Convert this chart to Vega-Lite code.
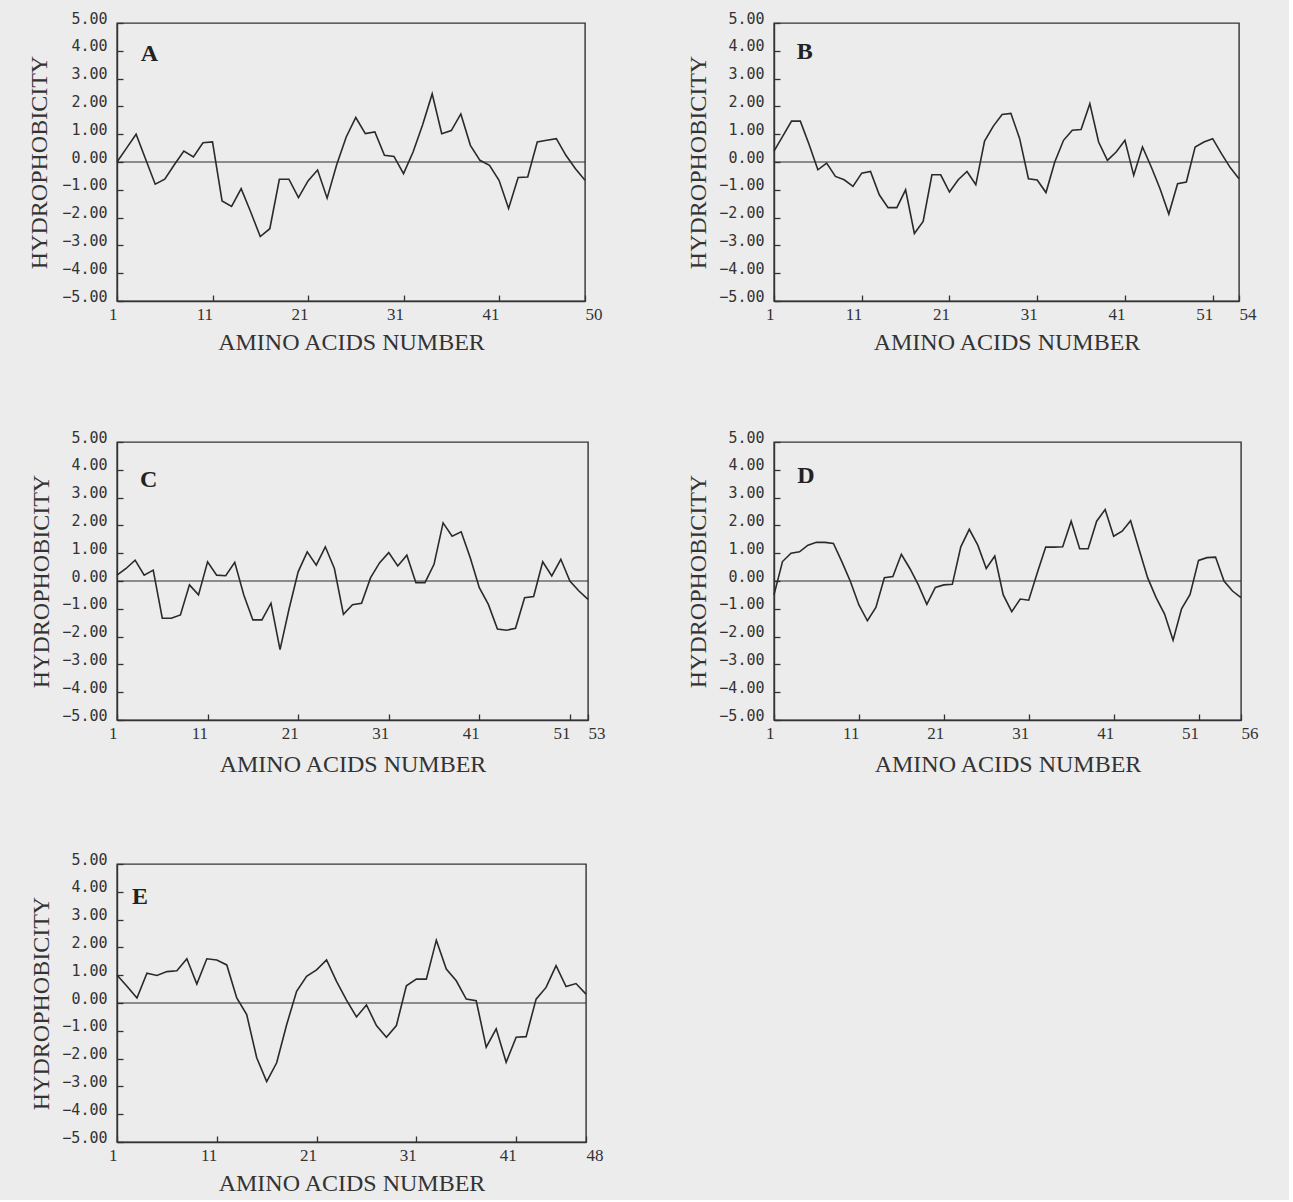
{
  "$schema": "https://vega.github.io/schema/vega-lite/v6.json",
  "background": "#ececec",
  "padding": {"left": 27, "top": 10, "right": 30, "bottom": 4},
  "datasets": {
    "hydro": [
      {"p":"A","n":1,"h":0.0},{"p":"A","n":2,"h":0.5},{"p":"A","n":3,"h":1.0},{"p":"A","n":4,"h":0.1},{"p":"A","n":5,"h":-0.8},{"p":"A","n":6,"h":-0.62},{"p":"A","n":7,"h":-0.1},{"p":"A","n":8,"h":0.39},{"p":"A","n":9,"h":0.18},{"p":"A","n":10,"h":0.69},
      {"p":"A","n":11,"h":0.72},{"p":"A","n":12,"h":-1.4},{"p":"A","n":13,"h":-1.6},{"p":"A","n":14,"h":-0.96},{"p":"A","n":15,"h":-1.8},{"p":"A","n":16,"h":-2.68},{"p":"A","n":17,"h":-2.4},{"p":"A","n":18,"h":-0.62},{"p":"A","n":19,"h":-0.62},{"p":"A","n":20,"h":-1.28},
      {"p":"A","n":21,"h":-0.68},{"p":"A","n":22,"h":-0.29},{"p":"A","n":23,"h":-1.3},{"p":"A","n":24,"h":-0.1},{"p":"A","n":25,"h":0.9},{"p":"A","n":26,"h":1.6},{"p":"A","n":27,"h":1.02},{"p":"A","n":28,"h":1.08},{"p":"A","n":29,"h":0.24},{"p":"A","n":30,"h":0.2},
      {"p":"A","n":31,"h":-0.42},{"p":"A","n":32,"h":0.36},{"p":"A","n":33,"h":1.34},{"p":"A","n":34,"h":2.45},{"p":"A","n":35,"h":1.02},{"p":"A","n":36,"h":1.13},{"p":"A","n":37,"h":1.73},{"p":"A","n":38,"h":0.6},{"p":"A","n":39,"h":0.06},{"p":"A","n":40,"h":-0.12},
      {"p":"A","n":41,"h":-0.66},{"p":"A","n":42,"h":-1.67},{"p":"A","n":43,"h":-0.56},{"p":"A","n":44,"h":-0.54},{"p":"A","n":45,"h":0.72},{"p":"A","n":46,"h":0.78},{"p":"A","n":47,"h":0.84},{"p":"A","n":48,"h":0.24},{"p":"A","n":49,"h":-0.24},{"p":"A","n":50,"h":-0.66},
      {"p":"B","n":1,"h":0.39},{"p":"B","n":2,"h":0.93},{"p":"B","n":3,"h":1.47},{"p":"B","n":4,"h":1.47},{"p":"B","n":5,"h":0.63},{"p":"B","n":6,"h":-0.28},{"p":"B","n":7,"h":-0.04},{"p":"B","n":8,"h":-0.52},{"p":"B","n":9,"h":-0.64},{"p":"B","n":10,"h":-0.88},
      {"p":"B","n":11,"h":-0.4},{"p":"B","n":12,"h":-0.34},{"p":"B","n":13,"h":-1.18},{"p":"B","n":14,"h":-1.64},{"p":"B","n":15,"h":-1.64},{"p":"B","n":16,"h":-1.0},{"p":"B","n":17,"h":-2.57},{"p":"B","n":18,"h":-2.14},{"p":"B","n":19,"h":-0.46},{"p":"B","n":20,"h":-0.46},
      {"p":"B","n":21,"h":-1.08},{"p":"B","n":22,"h":-0.64},{"p":"B","n":23,"h":-0.34},{"p":"B","n":24,"h":-0.82},{"p":"B","n":25,"h":0.75},{"p":"B","n":26,"h":1.29},{"p":"B","n":27,"h":1.71},{"p":"B","n":28,"h":1.75},{"p":"B","n":29,"h":0.84},{"p":"B","n":30,"h":-0.6},
      {"p":"B","n":31,"h":-0.65},{"p":"B","n":32,"h":-1.1},{"p":"B","n":33,"h":0.0},{"p":"B","n":34,"h":0.78},{"p":"B","n":35,"h":1.14},{"p":"B","n":36,"h":1.17},{"p":"B","n":37,"h":2.1},{"p":"B","n":38,"h":0.72},{"p":"B","n":39,"h":0.06},{"p":"B","n":40,"h":0.36},
      {"p":"B","n":41,"h":0.78},{"p":"B","n":42,"h":-0.48},{"p":"B","n":43,"h":0.54},{"p":"B","n":44,"h":-0.18},{"p":"B","n":45,"h":-0.96},{"p":"B","n":46,"h":-1.87},{"p":"B","n":47,"h":-0.78},{"p":"B","n":48,"h":-0.72},{"p":"B","n":49,"h":0.54},{"p":"B","n":50,"h":0.72},
      {"p":"B","n":51,"h":0.84},{"p":"B","n":52,"h":0.3},{"p":"B","n":53,"h":-0.2},{"p":"B","n":54,"h":-0.6},
      {"p":"C","n":1,"h":0.21},{"p":"C","n":2,"h":0.45},{"p":"C","n":3,"h":0.75},{"p":"C","n":4,"h":0.21},{"p":"C","n":5,"h":0.39},{"p":"C","n":6,"h":-1.34},{"p":"C","n":7,"h":-1.34},{"p":"C","n":8,"h":-1.22},{"p":"C","n":9,"h":-0.14},{"p":"C","n":10,"h":-0.5},
      {"p":"C","n":11,"h":0.69},{"p":"C","n":12,"h":0.21},{"p":"C","n":13,"h":0.19},{"p":"C","n":14,"h":0.67},{"p":"C","n":15,"h":-0.5},{"p":"C","n":16,"h":-1.4},{"p":"C","n":17,"h":-1.4},{"p":"C","n":18,"h":-0.8},{"p":"C","n":19,"h":-2.47},{"p":"C","n":20,"h":-1.0},
      {"p":"C","n":21,"h":0.33},{"p":"C","n":22,"h":1.05},{"p":"C","n":23,"h":0.57},{"p":"C","n":24,"h":1.23},{"p":"C","n":25,"h":0.45},{"p":"C","n":26,"h":-1.2},{"p":"C","n":27,"h":-0.85},{"p":"C","n":28,"h":-0.8},{"p":"C","n":29,"h":0.12},{"p":"C","n":30,"h":0.66},
      {"p":"C","n":31,"h":1.02},{"p":"C","n":32,"h":0.54},{"p":"C","n":33,"h":0.93},{"p":"C","n":34,"h":-0.06},{"p":"C","n":35,"h":-0.06},{"p":"C","n":36,"h":0.6},{"p":"C","n":37,"h":2.09},{"p":"C","n":38,"h":1.61},{"p":"C","n":39,"h":1.77},{"p":"C","n":40,"h":0.84},
      {"p":"C","n":41,"h":-0.24},{"p":"C","n":42,"h":-0.84},{"p":"C","n":43,"h":-1.73},{"p":"C","n":44,"h":-1.77},{"p":"C","n":45,"h":-1.7},{"p":"C","n":46,"h":-0.6},{"p":"C","n":47,"h":-0.56},{"p":"C","n":48,"h":0.69},{"p":"C","n":49,"h":0.18},{"p":"C","n":50,"h":0.78},
      {"p":"C","n":51,"h":0.0},{"p":"C","n":52,"h":-0.36},{"p":"C","n":53,"h":-0.66},
      {"p":"D","n":1,"h":-0.5},{"p":"D","n":2,"h":0.7},{"p":"D","n":3,"h":1.0},{"p":"D","n":4,"h":1.05},{"p":"D","n":5,"h":1.29},{"p":"D","n":6,"h":1.39},{"p":"D","n":7,"h":1.39},{"p":"D","n":8,"h":1.35},{"p":"D","n":9,"h":0.69},{"p":"D","n":10,"h":-0.02},
      {"p":"D","n":11,"h":-0.86},{"p":"D","n":12,"h":-1.43},{"p":"D","n":13,"h":-0.95},{"p":"D","n":14,"h":0.12},{"p":"D","n":15,"h":0.16},{"p":"D","n":16,"h":0.96},{"p":"D","n":17,"h":0.45},{"p":"D","n":18,"h":-0.14},{"p":"D","n":19,"h":-0.84},{"p":"D","n":20,"h":-0.23},
      {"p":"D","n":21,"h":-0.14},{"p":"D","n":22,"h":-0.12},{"p":"D","n":23,"h":1.23},{"p":"D","n":24,"h":1.86},{"p":"D","n":25,"h":1.29},{"p":"D","n":26,"h":0.45},{"p":"D","n":27,"h":0.9},{"p":"D","n":28,"h":-0.5},{"p":"D","n":29,"h":-1.1},{"p":"D","n":30,"h":-0.65},
      {"p":"D","n":31,"h":-0.69},{"p":"D","n":32,"h":0.29},{"p":"D","n":33,"h":1.22},{"p":"D","n":34,"h":1.22},{"p":"D","n":35,"h":1.23},{"p":"D","n":36,"h":2.15},{"p":"D","n":37,"h":1.16},{"p":"D","n":38,"h":1.16},{"p":"D","n":39,"h":2.15},{"p":"D","n":40,"h":2.57},
      {"p":"D","n":41,"h":1.61},{"p":"D","n":42,"h":1.79},{"p":"D","n":43,"h":2.17},{"p":"D","n":44,"h":1.13},{"p":"D","n":45,"h":0.12},{"p":"D","n":46,"h":-0.6},{"p":"D","n":47,"h":-1.19},{"p":"D","n":48,"h":-2.13},{"p":"D","n":49,"h":-1.0},{"p":"D","n":50,"h":-0.48},
      {"p":"D","n":51,"h":0.74},{"p":"D","n":52,"h":0.84},{"p":"D","n":53,"h":0.86},{"p":"D","n":54,"h":0.0},{"p":"D","n":55,"h":-0.36},{"p":"D","n":56,"h":-0.6},
      {"p":"E","n":1,"h":1.01},{"p":"E","n":2,"h":0.6},{"p":"E","n":3,"h":0.18},{"p":"E","n":4,"h":1.07},{"p":"E","n":5,"h":0.99},{"p":"E","n":6,"h":1.13},{"p":"E","n":7,"h":1.16},{"p":"E","n":8,"h":1.59},{"p":"E","n":9,"h":0.68},{"p":"E","n":10,"h":1.59},
      {"p":"E","n":11,"h":1.55},{"p":"E","n":12,"h":1.37},{"p":"E","n":13,"h":0.18},{"p":"E","n":14,"h":-0.42},{"p":"E","n":15,"h":-1.97},{"p":"E","n":16,"h":-2.83},{"p":"E","n":17,"h":-2.15},{"p":"E","n":18,"h":-0.78},{"p":"E","n":19,"h":0.42},{"p":"E","n":20,"h":0.96},
      {"p":"E","n":21,"h":1.19},{"p":"E","n":22,"h":1.55},{"p":"E","n":23,"h":0.78},{"p":"E","n":24,"h":0.1},{"p":"E","n":25,"h":-0.5},{"p":"E","n":26,"h":-0.07},{"p":"E","n":27,"h":-0.81},{"p":"E","n":28,"h":-1.23},{"p":"E","n":29,"h":-0.81},{"p":"E","n":30,"h":0.62},
      {"p":"E","n":31,"h":0.86},{"p":"E","n":32,"h":0.86},{"p":"E","n":33,"h":2.26},{"p":"E","n":34,"h":1.22},{"p":"E","n":35,"h":0.8},{"p":"E","n":36,"h":0.14},{"p":"E","n":37,"h":0.08},{"p":"E","n":38,"h":-1.59},{"p":"E","n":39,"h":-0.93},{"p":"E","n":40,"h":-2.13},
      {"p":"E","n":41,"h":-1.23},{"p":"E","n":42,"h":-1.21},{"p":"E","n":43,"h":0.14},{"p":"E","n":44,"h":0.56},{"p":"E","n":45,"h":1.34},{"p":"E","n":46,"h":0.59},{"p":"E","n":47,"h":0.7},{"p":"E","n":48,"h":0.32}
    ]
  },
  "spacing": 74,
  "vconcat": [
    {
      "spacing": 83,
      "hconcat": [
        {
          "width": 468, "height": 278,
          "layer": [
            {"data": {"name": "hydro"}, "transform": [{"filter": "datum.p === 'A'"}],
             "mark": {"type": "line", "color": "#2a2a2a", "strokeWidth": 1.6},
             "encoding": {
               "x": {"field": "n", "type": "quantitative", "scale": {"domain": [1, 50], "nice": false, "zero": false},
                     "axis": {"values": [1, 11, 21, 31, 41, 50], "tickCount": 20, "title": "AMINO ACIDS NUMBER", "labelOverlap": false, "labelAlign": {"condition": {"test": "datum.value === 50", "value": "left"}, "value": "right"}}},
               "y": {"field": "h", "type": "quantitative", "scale": {"domain": [-5, 5], "nice": false},
                     "axis": {"values": [-5, -4, -3, -2, -1, 0, 1, 2, 3, 4, 5], "tickCount": 20, "format": ".2f", "title": "HYDROPHOBICITY", "titlePadding": 10, "labelOverlap": false}}
             }},
            {"data": {"values": [{}]}, "mark": {"type": "rule", "color": "#2a2a2a", "strokeWidth": 1.2}, "encoding": {"y": {"datum": 0}}},
            {"data": {"values": [{"label": "A"}]}, "mark": {"type": "text", "font": "Liberation Serif", "fontWeight": "bold", "fontSize": 24, "color": "#222"},
             "encoding": {"x": {"datum": 4.4}, "y": {"datum": 3.9}, "text": {"field": "label"}}}
          ]
        },
        {
          "width": 465, "height": 278,
          "layer": [
            {"data": {"name": "hydro"}, "transform": [{"filter": "datum.p === 'B'"}],
             "mark": {"type": "line", "color": "#2a2a2a", "strokeWidth": 1.6},
             "encoding": {
               "x": {"field": "n", "type": "quantitative", "scale": {"domain": [1, 54], "nice": false, "zero": false},
                     "axis": {"values": [1, 11, 21, 31, 41, 51, 54], "tickCount": 20, "title": "AMINO ACIDS NUMBER", "labelOverlap": false, "labelAlign": {"condition": {"test": "datum.value === 54", "value": "left"}, "value": "right"}}},
               "y": {"field": "h", "type": "quantitative", "scale": {"domain": [-5, 5], "nice": false},
                     "axis": {"values": [-5, -4, -3, -2, -1, 0, 1, 2, 3, 4, 5], "tickCount": 20, "format": ".2f", "title": "HYDROPHOBICITY", "labelOverlap": false}}
             }},
            {"data": {"values": [{}]}, "mark": {"type": "rule", "color": "#2a2a2a", "strokeWidth": 1.2}, "encoding": {"y": {"datum": 0}}},
            {"data": {"values": [{"label": "B"}]}, "mark": {"type": "text", "font": "Liberation Serif", "fontWeight": "bold", "fontSize": 24, "color": "#222"},
             "encoding": {"x": {"datum": 4.5}, "y": {"datum": 3.96}, "text": {"field": "label"}}}
          ]
        }
      ]
    },
    {
      "spacing": 80,
      "hconcat": [
        {
          "width": 471, "height": 278,
          "layer": [
            {"data": {"name": "hydro"}, "transform": [{"filter": "datum.p === 'C'"}],
             "mark": {"type": "line", "color": "#2a2a2a", "strokeWidth": 1.6},
             "encoding": {
               "x": {"field": "n", "type": "quantitative", "scale": {"domain": [1, 53], "nice": false, "zero": false},
                     "axis": {"values": [1, 11, 21, 31, 41, 51, 53], "tickCount": 20, "title": "AMINO ACIDS NUMBER", "titlePadding": 11, "labelOverlap": false, "labelAlign": {"condition": {"test": "datum.value === 53", "value": "left"}, "value": "right"}}},
               "y": {"field": "h", "type": "quantitative", "scale": {"domain": [-5, 5], "nice": false},
                     "axis": {"values": [-5, -4, -3, -2, -1, 0, 1, 2, 3, 4, 5], "tickCount": 20, "format": ".2f", "title": "HYDROPHOBICITY", "labelOverlap": false}}
             }},
            {"data": {"values": [{}]}, "mark": {"type": "rule", "color": "#2a2a2a", "strokeWidth": 1.2}, "encoding": {"y": {"datum": 0}}},
            {"data": {"values": [{"label": "C"}]}, "mark": {"type": "text", "font": "Liberation Serif", "fontWeight": "bold", "fontSize": 24, "color": "#222"},
             "encoding": {"x": {"datum": 4.5}, "y": {"datum": 3.63}, "text": {"field": "label"}}}
          ]
        },
        {
          "width": 467, "height": 278,
          "layer": [
            {"data": {"name": "hydro"}, "transform": [{"filter": "datum.p === 'D'"}],
             "mark": {"type": "line", "color": "#2a2a2a", "strokeWidth": 1.6},
             "encoding": {
               "x": {"field": "n", "type": "quantitative", "scale": {"domain": [1, 56], "nice": false, "zero": false},
                     "axis": {"values": [1, 11, 21, 31, 41, 51, 56], "tickCount": 20, "title": "AMINO ACIDS NUMBER", "titlePadding": 11, "labelOverlap": false, "labelAlign": {"condition": {"test": "datum.value === 56", "value": "left"}, "value": "right"}}},
               "y": {"field": "h", "type": "quantitative", "scale": {"domain": [-5, 5], "nice": false},
                     "axis": {"values": [-5, -4, -3, -2, -1, 0, 1, 2, 3, 4, 5], "tickCount": 20, "format": ".2f", "title": "HYDROPHOBICITY", "labelOverlap": false}}
             }},
            {"data": {"values": [{}]}, "mark": {"type": "rule", "color": "#2a2a2a", "strokeWidth": 1.2}, "encoding": {"y": {"datum": 0}}},
            {"data": {"values": [{"label": "D"}]}, "mark": {"type": "text", "font": "Liberation Serif", "fontWeight": "bold", "fontSize": 24, "color": "#222"},
             "encoding": {"x": {"datum": 4.76}, "y": {"datum": 3.77}, "text": {"field": "label"}}}
          ]
        }
      ]
    },
    {
      "width": 469, "height": 278,
      "layer": [
        {"data": {"name": "hydro"}, "transform": [{"filter": "datum.p === 'E'"}],
         "mark": {"type": "line", "color": "#2a2a2a", "strokeWidth": 1.6},
         "encoding": {
           "x": {"field": "n", "type": "quantitative", "scale": {"domain": [1, 48], "nice": false, "zero": false},
                 "axis": {"values": [1, 11, 21, 31, 41, 48], "tickCount": 20, "title": "AMINO ACIDS NUMBER", "labelOverlap": false, "labelAlign": {"condition": {"test": "datum.value === 48", "value": "left"}, "value": "right"}}},
           "y": {"field": "h", "type": "quantitative", "scale": {"domain": [-5, 5], "nice": false},
                 "axis": {"values": [-5, -4, -3, -2, -1, 0, 1, 2, 3, 4, 5], "tickCount": 20, "format": ".2f", "title": "HYDROPHOBICITY", "labelOverlap": false}}
         }},
        {"data": {"values": [{}]}, "mark": {"type": "rule", "color": "#2a2a2a", "strokeWidth": 1.2}, "encoding": {"y": {"datum": 0}}},
        {"data": {"values": [{"label": "E"}]}, "mark": {"type": "text", "font": "Liberation Serif", "fontWeight": "bold", "fontSize": 24, "color": "#222"},
         "encoding": {"x": {"datum": 3.3}, "y": {"datum": 3.82}, "text": {"field": "label"}}}
      ]
    }
  ],
  "config": {
    "view": {"stroke": "#333", "strokeWidth": 1.4},
    "axis": {"grid": false, "domainColor": "#333", "domainWidth": 1.4, "tickColor": "#333", "tickWidth": 1.3, "tickSize": -6,
             "labelColor": "#333", "titleColor": "#333", "titleFont": "Liberation Serif", "titleFontWeight": "normal", "titleFontSize": 24,
             "labelFlush": false, "labelOverlap": false},
    "axisX": {"labelFont": "Liberation Serif", "labelFontSize": 17, "labelPadding": 11, "titlePadding": 8},
    "axisY": {"labelFont": "DejaVu Sans Mono", "labelFontSize": 15, "labelPadding": 16, "titlePadding": 8, "labelOffset": -5}
  }
}
